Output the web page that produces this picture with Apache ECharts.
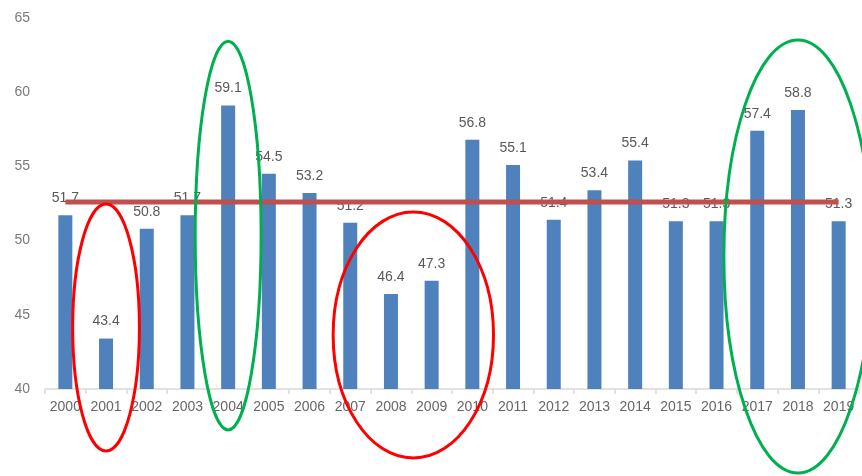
<!DOCTYPE html>
<html>
<head>
<meta charset="utf-8">
<style>
  html, body { margin: 0; padding: 0; background: #ffffff; }
  #chart { width: 862px; height: 476px; }
</style>
<script src="https://cdn.jsdelivr.net/npm/echarts@6/dist/echarts.min.js"></script>
</head>
<body>
<div id="chart"></div>
<script>
// ---- Data ----
const years = ['2000','2001','2002','2003','2004','2005','2006','2007','2008','2009',
               '2010','2011','2012','2013','2014','2015','2016','2017','2018','2019'];
const values = [51.7, 43.4, 50.8, 51.7, 59.1, 54.5, 53.2, 51.2, 46.4, 47.3,
                56.8, 55.1, 51.4, 53.4, 55.4, 51.3, 51.3, 57.4, 58.8, 51.3];
const averageLine = [52.6, 52.6, 52.6, 52.6, 52.6, 52.6, 52.6, 52.6, 52.6, 52.6,
                     52.6, 52.6, 52.6, 52.6, 52.6, 52.6, 52.6, 52.6, 52.6, 52.6];
const yTicks = [40, 45, 50, 55, 60, 65];

// Annotation ellipses in data units: centre (category index, value), radii (categories, value units)
const ellipseCenterIndex = [1, 4, 8.55, 18];
const ellipseCenterValue = [44.14, 50.34, 43.64, 48.93];
const ellipseRadiusCat   = [0.82, 0.81, 1.97, 1.82];
const ellipseRadiusVal   = [8.32, 13.1, 8.29, 14.59];
const ellipseColor       = ['#FF0000', '#00B050', '#FF0000', '#00B050'];

const textColor = '#595959';
const fontFamily = '"Liberation Sans", Arial, sans-serif';

const chart = echarts.init(document.getElementById('chart'), null, { renderer: 'canvas' });

chart.setOption({
  animation: false,
  backgroundColor: '#ffffff',
  grid: { left: 45, right: 3, top: 18, bottom: 87, containLabel: false },
  xAxis: {
    type: 'category',
    data: years,
    axisLine: { lineStyle: { color: '#D9D9D9', width: 1.5 } },
    axisTick: { show: true, alignWithLabel: false, length: 5, lineStyle: { color: '#D9D9D9', width: 1.5 } },
    axisLabel: { color: '#666666', fontSize: 14, fontFamily: fontFamily, margin: 11, interval: 0 },
    splitLine: { show: false }
  },
  yAxis: {
    type: 'value',
    min: yTicks[0],
    max: yTicks[yTicks.length - 1],
    interval: 5,
    axisLine: { show: false },
    axisTick: { show: false },
    splitLine: { show: false },
    axisLabel: { color: '#7A7A7A', fontSize: 14, fontFamily: fontFamily, margin: 15 }
  },
  series: [
    {
      type: 'bar',
      data: values,
      barWidth: 14,
      z: 2,
      itemStyle: { color: '#4F81BD' },
      label: {
        show: true,
        position: 'top',
        distance: 10,
        color: textColor,
        fontSize: 14,
        fontFamily: fontFamily
      }
    },
    {
      type: 'line',
      data: averageLine,
      z: 5,
      symbol: 'none',
      lineStyle: { color: '#C0504D', width: 5 },
      itemStyle: { color: '#C0504D' }
    }
  ]
});

// Annotation ellipses placed through the chart's own scales
function drawEllipses() {
  const p0 = chart.convertToPixel({ gridIndex: 0 }, [0, 40]);
  const p1 = chart.convertToPixel({ gridIndex: 0 }, [1, 45]);
  const bandPx = p1[0] - p0[0];
  const unitPx = (p0[1] - p1[1]) / 5;
  const graphics = ellipseCenterIndex.map((ci, i) => {
    const cy = chart.convertToPixel({ gridIndex: 0 }, [0, ellipseCenterValue[i]])[1];
    const cx = p0[0] + ci * bandPx;
    return {
      type: 'ellipse',
      z: 100,
      silent: true,
      shape: { cx: cx, cy: cy, rx: ellipseRadiusCat[i] * bandPx, ry: ellipseRadiusVal[i] * unitPx },
      style: { fill: 'none', stroke: ellipseColor[i], lineWidth: 3 }
    };
  });
  chart.setOption({ graphic: graphics });
}
drawEllipses();
</script>
</body>
</html>
